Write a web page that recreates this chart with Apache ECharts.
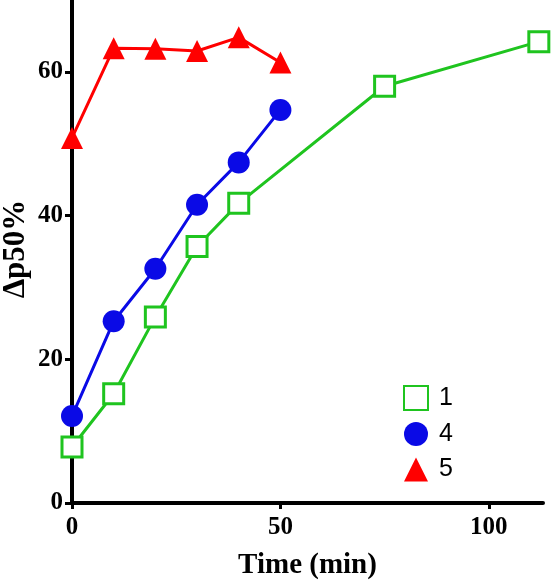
<!DOCTYPE html>
<html>
<head>
<meta charset="utf-8">
<script src="https://cdn.jsdelivr.net/npm/echarts@6/dist/echarts.min.js"></script>
<style>html,body{margin:0;padding:0;background:#fff}#c{width:556px;height:585px}</style>
</head>
<body>
<div id="c"></div>
<script>
var seriesNames = ['1', '4', '5'];
var xs1 = [0, 10, 20, 30, 40, 75, 112];
var ys1 = [7.8, 15.2, 25.9, 35.7, 41.7, 58.0, 64.2];
var xs4 = [0, 10, 20, 30, 40, 50];
var ys4 = [12.1, 25.3, 32.6, 41.5, 47.4, 54.7];
var xs5 = [0, 10, 20, 30, 40, 50];
var ys5 = [50.8, 63.3, 63.2, 62.9, 64.8, 61.3];
var xTicks = [0, 50, 100];
var yTicks = [0, 20, 40, 60];
var yTitle = 'Δp50%';
var xTitle = 'Time (min)';

function pairs(xs, ys) { return xs.map(function (x, i) { return [x, ys[i]]; }); }

var chart = echarts.init(document.getElementById('c'));
var serif = '"Liberation Serif", "DejaVu Serif", serif';
chart.setOption({
  animation: false,
  backgroundColor: '#fff',
  grid: { left: 72, right: 13, top: 0, bottom: 82, containLabel: false, outerBoundsMode: 'none' },
  graphic: [{
    type: 'text', x: 16, y: 249, rotation: Math.PI / 2,
    style: { text: yTitle, font: 'bold 31px "Liberation Serif", serif', fill: '#000', align: 'center', verticalAlign: 'middle' }
  }],
  legend: {
    orient: 'vertical', left: 398, top: 380, itemGap: 10.5,
    itemWidth: 24, itemHeight: 24,
    textStyle: { fontFamily: '"Liberation Sans", Arial, sans-serif', fontSize: 25, color: '#000', padding: [0, 0, 0, 6] },
    data: [
      { name: seriesNames[0], icon: 'rect' },
      { name: seriesNames[1], icon: 'circle' },
      { name: seriesNames[2], icon: 'triangle' }
    ]
  },
  xAxis: {
    type: 'value', min: 0, max: 113, interval: 50,
    name: xTitle, nameLocation: 'middle', nameGap: 48,
    nameTextStyle: { fontFamily: serif, fontWeight: 'bold', fontSize: 29, color: '#000' },
    axisLine: { onZero: false, lineStyle: { color: '#000', width: 4 } },
    axisTick: { length: 6, lineStyle: { color: '#000', width: 3 }, customValues: xTicks },
    axisLabel: { fontFamily: serif, fontWeight: 'bold', fontSize: 25, color: '#000', margin: 12, customValues: xTicks },
    splitLine: { show: false }
  },
  yAxis: {
    type: 'value', min: 0, max: 70, interval: 20,
    axisLine: { onZero: false, lineStyle: { color: '#000', width: 4 } },
    axisTick: { length: 7, lineStyle: { color: '#000', width: 3 }, customValues: yTicks },
    axisLabel: { fontFamily: serif, fontWeight: 'bold', fontSize: 25, color: '#000', margin: 9, customValues: yTicks },
    splitLine: { show: false }
  },
  series: [
    {
      name: seriesNames[0], type: 'line', data: pairs(xs1, ys1), z: 3,
      symbol: 'rect', symbolSize: 20,
      lineStyle: { color: '#1fc41f', width: 3 },
      itemStyle: { color: '#fff', borderColor: '#1fc41f', borderWidth: 3 }
    },
    {
      name: seriesNames[1], type: 'line', data: pairs(xs4, ys4), z: 4,
      symbol: 'circle', symbolSize: 22,
      lineStyle: { color: '#0a0ae6', width: 3 },
      itemStyle: { color: '#0a0ae6', borderWidth: 0 }
    },
    {
      name: seriesNames[2], type: 'line', data: pairs(xs5, ys5), z: 5,
      symbol: 'triangle', symbolSize: 22,
      lineStyle: { color: '#f00', width: 3 },
      itemStyle: { color: '#f00', borderWidth: 0 }
    }
  ]
});
</script>
</body>
</html>
